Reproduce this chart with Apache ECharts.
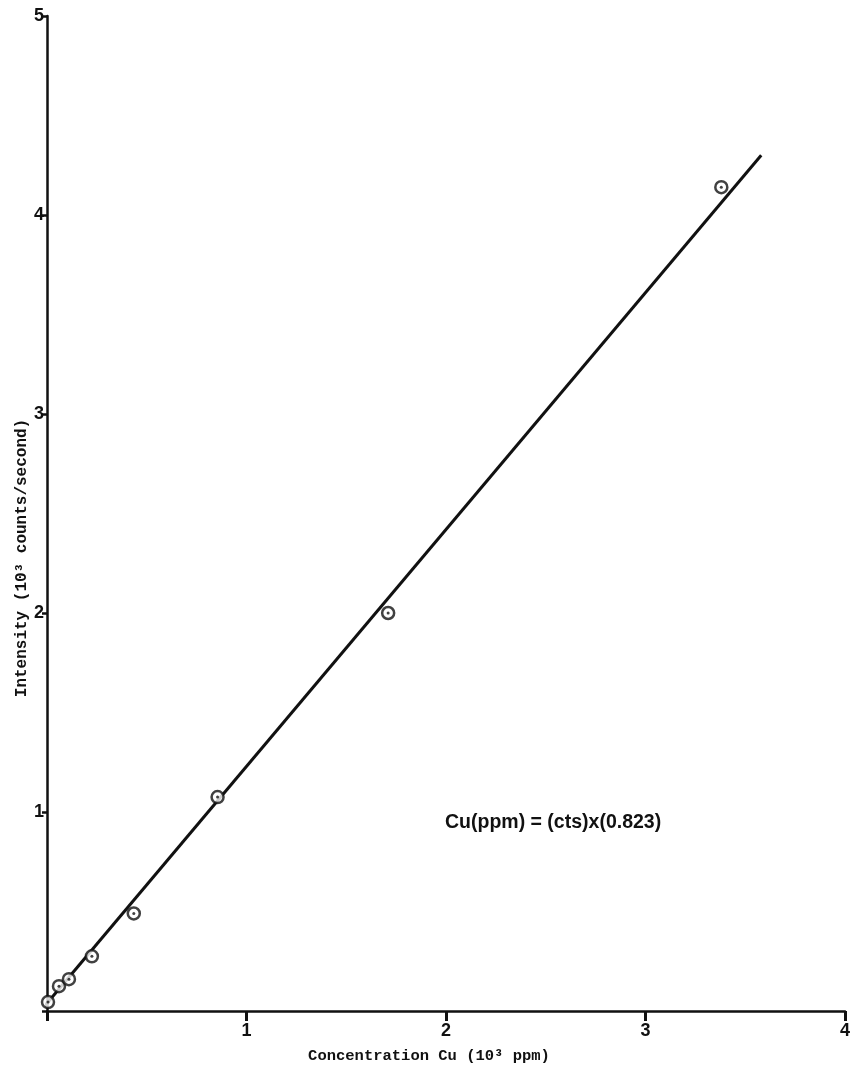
<!DOCTYPE html>
<html>
<head>
<meta charset="utf-8">
<script src="https://cdn.jsdelivr.net/npm/echarts@6/dist/echarts.min.js"></script>
<style>
  html, body { margin: 0; padding: 0; background: #fff; }
  #chart { width: 857px; height: 1084px; }
</style>
</head>
<body>
<div id="chart"></div>
<script>
// measured standards: concentration (10^3 ppm) vs intensity (10^3 counts/s)
var concentration = [0.005, 0.06, 0.11, 0.225, 0.435, 0.855, 1.71, 3.38]
var intensity = [0.045, 0.125, 0.16, 0.275, 0.49, 1.075, 2.0, 4.14]
// fitted calibration line end points
var fitX = [-0.02, 3.58]
var fitY = [0.015, 4.30]
var xTicks = [0, 1, 2, 3, 4]
var yTicks = [0, 1, 2, 3, 4, 5]
var equation = 'Cu(ppm) = (cts)x(0.823)'

var points = concentration.map(function (c, i) { return [c, intensity[i]] })
var fit = fitX.map(function (x, i) { return [x, fitY[i]] })

var chart = echarts.init(document.getElementById('chart'))
var labelFont = { color: '#111', fontSize: 18, fontWeight: 'bold', fontFamily: 'Liberation Sans' }

chart.setOption({
  backgroundColor: '#fff',
  animation: false,
  grid: { left: 47, right: 12, top: 16, bottom: 73 },
  xAxis: {
    type: 'value',
    min: xTicks[0],
    max: xTicks[xTicks.length - 1],
    interval: 1,
    splitLine: { show: false },
    axisLine: { lineStyle: { color: '#111', width: 2.5 } },
    axisTick: { length: 10, lineStyle: { color: '#111', width: 3 } },
    axisLabel: Object.assign({
      margin: 11,
      formatter: function (v) { return v === 0 ? '' : v }
    }, labelFont),
    name: 'Concentration Cu (10\u00b3 ppm)',
    nameLocation: 'middle',
    nameGap: 37,
    nameTextStyle: {
      color: '#111', fontSize: 15.5, fontWeight: 'bold',
      fontFamily: 'Liberation Mono', padding: [0, 34, 0, 0]
    }
  },
  yAxis: {
    type: 'value',
    min: yTicks[0],
    max: yTicks[yTicks.length - 1],
    interval: 1,
    splitLine: { show: false },
    axisLine: { lineStyle: { color: '#111', width: 2.5 } },
    axisTick: { length: 5, lineStyle: { color: '#111', width: 2.5 } },
    axisLabel: Object.assign({
      margin: 3,
      formatter: function (v) { return v === 0 ? '' : v }
    }, labelFont)
  },
  graphic: [
    {
      type: 'text',
      x: 22, y: 558,
      rotation: Math.PI / 2,
      style: {
        text: 'Intensity (10\u00b3 counts/second)',
        fill: '#111', fontSize: 16, fontWeight: 'bold',
        fontFamily: 'Liberation Mono',
        textAlign: 'center', textVerticalAlign: 'middle'
      }
    },
    {
      type: 'text',
      x: 445, y: 823,
      style: {
        text: equation,
        fill: '#111', fontSize: 19.5, fontWeight: 'bold',
        fontFamily: 'Liberation Sans',
        textAlign: 'left', textVerticalAlign: 'middle'
      }
    }
  ],
  series: [
    {
      type: 'line',
      data: fit,
      symbol: 'none',
      lineStyle: { color: '#111', width: 3 },
      z: 2
    },
    {
      type: 'scatter',
      data: points,
      symbol: 'circle',
      symbolSize: 12,
      itemStyle: { color: '#fff', borderColor: '#111', borderWidth: 2.5 },
      z: 3
    },
    {
      type: 'scatter',
      data: points,
      symbol: 'circle',
      symbolSize: 3,
      itemStyle: { color: '#111' },
      z: 4
    }
  ]
})
</script>
</body>
</html>
